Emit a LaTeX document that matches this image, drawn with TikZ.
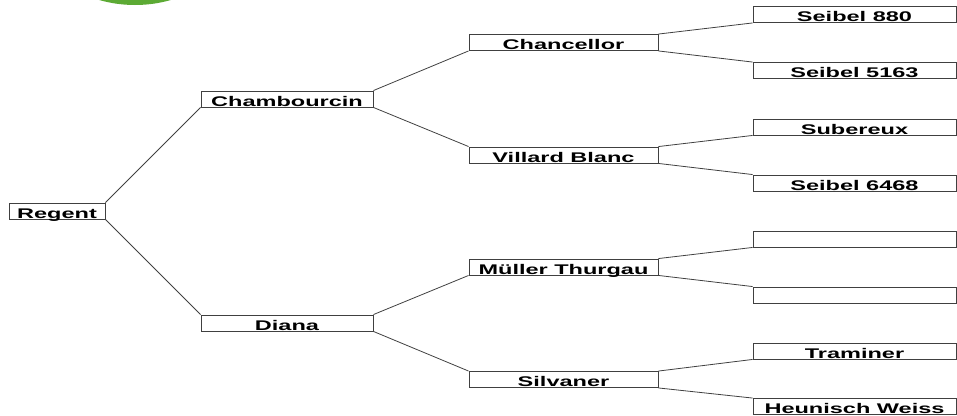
\documentclass[tikz,border=0pt]{standalone}
\usepackage{fontspec}
\newfontfamily\grapefont[FakeStretch=1.68]{Liberation Sans}
\usetikzlibrary{positioning}

\definecolor{edgegray}{RGB}{64,64,64}
\definecolor{logogreen}{RGB}{92,170,52}

\tikzset{
  vine/.style={draw=edgegray, line width=0.9pt, fill=white, inner sep=0pt,
    minimum height=16pt, text height=15pt, text depth=1pt,
    font=\grapefont\bfseries\fontsize{14}{16}\selectfont},
  gen1/.style={vine, minimum width=172pt},
  gen2/.style={vine, minimum width=189pt},
  gen3/.style={vine, minimum width=203pt},
  link/.style={draw=edgegray, line width=0.8pt},
}

\begin{document}
\begin{tikzpicture}[x=1pt, y=-1pt]

    \useasboundingbox (0,0) rectangle (957,415) ; %
    \fill[logogreen] (135,-125) circle[radius=130pt] ; %

    \node[vine, minimum width=96pt] (regent) at (57,211) {Regent} ; %

    \node[gen1] (chambourcin) at (287,99) {Chambourcin} ; %
    \node[gen1] (diana) at (287,323) {Diana} ; %

    \node[gen2] (chancellor) at (563.5,42.5) {Chancellor} ; %
    \node[gen2] (villard) at (563.5,155) {Villard Blanc} ; %
    \node[gen2] (mueller) at (563.5,267) {Müller Thurgau} ; %
    \node[gen2] (silvaner) at (563.5,379.5) {Silvaner} ; %

    \node[gen3] (seibel_880) at (854.5,14.5) {Seibel 880} ; %
    \node[gen3] (seibel_5163) at (854.5,70.5) {Seibel 5163} ; %
    \node[gen3] (subereux) at (854.5,127) {Subereux} ; %
    \node[gen3] (seibel_6468) at (854.5,183) {Seibel 6468} ; %
    \node[gen3] (mueller_a) at (854.5,239) {} ; %
    \node[gen3] (mueller_b) at (854.5,295) {} ; %
    \node[gen3] (traminer) at (854.5,351) {Traminer} ; %
    \node[gen3] (heunisch) at (854.5,406.5) {Heunisch Weiss} ; %

    \draw[link] (regent.north east) -- (chambourcin.south west) ; %
    \draw[link] (regent.south east) -- (diana.north west) ; %

    \draw[link] (chambourcin.north east) -- (chancellor.south west) ; %
    \draw[link] (chambourcin.south east) -- (villard.north west) ; %
    \draw[link] (diana.north east) -- (mueller.south west) ; %
    \draw[link] (diana.south east) -- (silvaner.north west) ; %

    \draw[link] (chancellor.north east) -- (seibel_880.south west) ; %
    \draw[link] (chancellor.south east) -- (seibel_5163.north west) ; %
    \draw[link] (villard.north east) -- (subereux.south west) ; %
    \draw[link] (villard.south east) -- (seibel_6468.north west) ; %
    \draw[link] (mueller.north east) -- (mueller_a.south west) ; %
    \draw[link] (mueller.south east) -- (mueller_b.north west) ; %
    \draw[link] (silvaner.north east) -- (traminer.south west) ; %
    \draw[link] (silvaner.south east) -- (heunisch.north west) ; %

\end{tikzpicture}
\end{document}
